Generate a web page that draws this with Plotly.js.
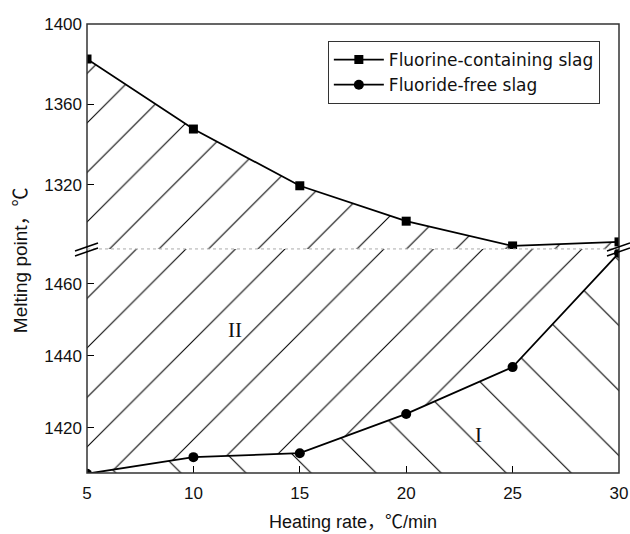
<!DOCTYPE html>
<html>
<head>
<meta charset="utf-8">
<script src="https://cdn.plot.ly/plotly-3.0.1.min.js"></script>
<style>html,body{margin:0;padding:0;background:#fff;}#chart{width:630px;height:534px;}</style>
</head>
<body>
<div id="chart"></div>
<script>
// Data
const heatingRate = [5, 10, 15, 20, 25, 30];
const fluorineSlag = [1382.6, 1347.8, 1319.6, 1302, 1289.7, 1291.7];
const fluorideFreeSlag = [1407.3, 1411.9, 1413.0, 1423.9, 1436.9, 1468.6];
const xTicks = [5, 10, 15, 20, 25, 30];
const upperTicks = [1320, 1360, 1400];
const lowerTicks = [1420, 1440, 1460];
const upperRange = [1288.2, 1400];
const lowerRange = [1407.5, 1469.7];
const ceilingX = [30, 5];
const ceilingY = [1600, 1600];
const seriesNames = ['Fluorine-containing slag', 'Fluoride-free slag'];

const FONT = 'Arial, "Liberation Sans", "Noto Sans CJK SC", sans-serif';
const split = 0.499;

const hatchFwd = {shape: '/', fgcolor: '#000', bgcolor: 'rgba(0,0,0,0)', size: 35, solidity: 0.03, fillmode: 'replace'};
const hatchFwd2 = {shape: '/', fgcolor: '#000', bgcolor: 'rgba(0,0,0,0)', size: 35, solidity: 0.03, fillmode: 'replace'};
const hatchBack = {shape: '\\', fgcolor: '#000', bgcolor: 'rgba(0,0,0,0)', size: 46, solidity: 0.024, fillmode: 'replace'};

// region II in the lower panel: polygon from the fluoride-free curve up to a ceiling (clipped by the axes)
const regionIIx = heatingRate.concat(ceilingX);
const regionIIy = fluorideFreeSlag.concat(ceilingY);

const traces = [
  // hatched regions
  {x: heatingRate, y: fluorineSlag, xaxis: 'x', yaxis: 'y2', mode: 'none',
   fill: 'tozeroy', fillcolor: 'rgba(0,0,0,0)', fillpattern: hatchFwd, showlegend: false, hoverinfo: 'skip'},
  {x: heatingRate, y: fluorideFreeSlag, xaxis: 'x', yaxis: 'y', mode: 'none',
   fill: 'tozeroy', fillcolor: 'rgba(0,0,0,0)', fillpattern: hatchBack, showlegend: false, hoverinfo: 'skip'},
  {x: regionIIx, y: regionIIy, xaxis: 'x', yaxis: 'y', mode: 'none', fill: 'toself',
   fillcolor: 'rgba(0,0,0,0)', fillpattern: hatchFwd2, showlegend: false, hoverinfo: 'skip'},
  // series
  {x: heatingRate, y: fluorineSlag, xaxis: 'x', yaxis: 'y2', mode: 'lines+markers', name: seriesNames[0],
   line: {color: '#000', width: 1.8}, marker: {symbol: 'square', size: 9, color: '#000'}},
  {x: heatingRate, y: fluorideFreeSlag, xaxis: 'x', yaxis: 'y', mode: 'lines+markers', name: seriesNames[1],
   line: {color: '#000', width: 1.8}, marker: {symbol: 'circle', size: 10, color: '#000'}}
];

const axisFont = {family: FONT, size: 17, color: '#111'};

function breakMark(xa, yOff) {
  return {type: 'line', xref: 'paper', yref: 'paper', xsizemode: 'pixel', ysizemode: 'pixel',
    xanchor: xa, yanchor: split, x0: -12, x1: 11, y0: yOff - 4, y1: yOff + 4,
    line: {color: '#000', width: 1.6}};
}

const layout = {
  width: 630, height: 534,
  margin: {l: 87, r: 11, t: 24, b: 61},
  paper_bgcolor: '#fff', plot_bgcolor: '#fff',
  font: {family: FONT, color: '#111'},
  showlegend: true,
  legend: {x: 0.964, y: 0.962, xanchor: 'right', yanchor: 'top', bgcolor: '#fff',
    bordercolor: '#333', borderwidth: 1, font: {family: '"DejaVu Sans", sans-serif', size: 17, color: '#111'},
    tracegroupgap: 0, itemwidth: 50, traceorder: 'normal'},
  xaxis: {range: [5, 30], tickvals: xTicks, ticktext: xTicks.map(String), ticks: 'inside', ticklen: 7,
    tickcolor: '#000', showgrid: false, zeroline: false, showline: false, tickfont: axisFont,
    ticklabelstandoff: 8, anchor: 'y',
    title: {text: 'Heating rate，℃/min', font: {family: FONT, size: 18, color: '#111'}, standoff: 13}},
  yaxis: {domain: [0, split], range: lowerRange, tickvals: lowerTicks, ticks: 'inside', ticklen: 7,
    tickcolor: '#000', showgrid: false, zeroline: false, showline: false, tickfont: axisFont,
    ticklabelstandoff: 4, anchor: 'x'},
  yaxis2: {domain: [split, 1], range: upperRange, tickvals: upperTicks, ticks: 'inside', ticklen: 7,
    tickcolor: '#000', showgrid: false, zeroline: false, showline: false, tickfont: axisFont,
    ticklabelstandoff: 4, anchor: 'x'},
  shapes: [
    {type: 'rect', xref: 'paper', yref: 'paper', x0: 0, x1: 1, y0: 0, y1: 1, line: {color: '#333', width: 1.5}},
    {type: 'line', xref: 'paper', yref: 'paper', x0: 0, x1: 1, y0: split, y1: split, line: {color: '#aaa', width: 1, dash: 'dot'}},
    breakMark(0, 2), breakMark(0, -3), breakMark(1, 2), breakMark(1, -3)
  ],
  annotations: [
    {xref: 'paper', yref: 'paper', x: -0.126, y: 0.474, xanchor: 'center', yanchor: 'middle',
     text: 'Melting point，℃', textangle: -90, showarrow: false,
     font: {family: FONT, size: 19, color: '#111'}},
    {xref: 'x', yref: 'y', x: 11.95, y: 1447.2, text: 'II', showarrow: false,
     font: {family: '"Liberation Serif", "DejaVu Serif", serif', size: 21, color: '#111'}},
    {xref: 'x', yref: 'y', x: 23.4, y: 1418, text: 'I', showarrow: false,
     font: {family: '"Liberation Serif", "DejaVu Serif", serif', size: 21, color: '#111'}}
  ]
};

Plotly.newPlot('chart', traces, layout, {staticPlot: true, displayModeBar: false});
</script>
</body>
</html>
